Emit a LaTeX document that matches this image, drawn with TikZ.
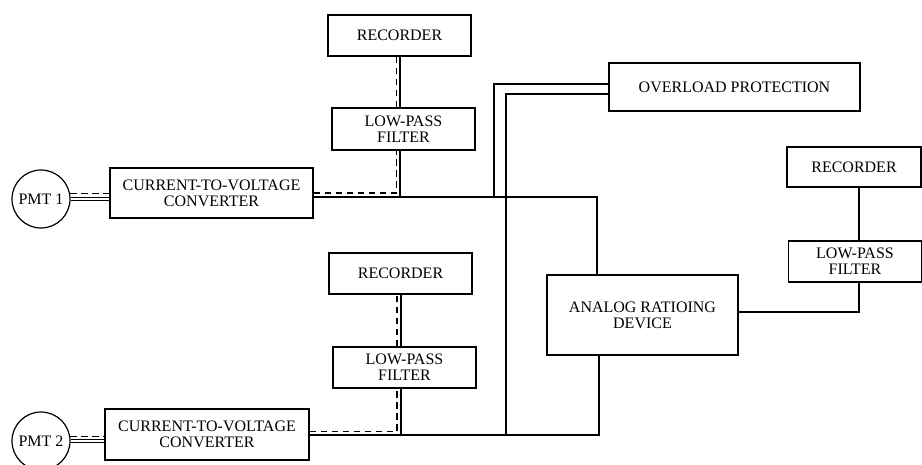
\documentclass[tikz,border=0pt]{standalone}
\usepackage{fontspec}
\setmainfont{Liberation Serif}
\usetikzlibrary{positioning}
\tikzset{
  blk/.style 2 args={draw,line width=1.2pt,rectangle,inner sep=0pt,
    minimum width=#1,minimum height=#2,align=center,
    font=\fontsize{16}{15.7}\selectfont},
  pmt/.style={draw,line width=1.2pt,circle,inner sep=0pt,minimum size=58pt,
    font=\fontsize{16}{15.7}\selectfont},
  wire/.style={line width=1.2pt},
  dwire/.style={line width=1.2pt,dash pattern=on 6.5pt off 4.5pt},
  twin/.style={double,double distance=1.6pt,line width=0.9pt},
}
\begin{document}
\begin{tikzpicture}[x=1pt,y=-1pt]
  \useasboundingbox (0,0) rectangle (922,464);
  % channel 1
  \node[pmt] (pmt1) at (41,199) {PMT 1};
  \node[blk={203pt}{50pt}] (cv1) at (211.5,193) {CURRENT-TO-VOLTAGE\\CONVERTER};
  \node[blk={143pt}{42pt}] (lp1) at (403.5,129) {LOW-PASS\\FILTER};
  \node[blk={143pt}{41pt}] (rec1) at (399.5,35.5) {RECORDER};
  % channel 2
  \node[pmt] (pmt2) at (41,441) {PMT 2};
  \node[blk={204pt}{51pt}] (cv2) at (207,434.5) {CURRENT-TO-VOLTAGE\\CONVERTER};
  \node[blk={143pt}{41pt}] (lp2) at (404.5,367.5) {LOW-PASS\\FILTER};
  \node[blk={143pt}{41pt}] (rec2) at (400.5,273.5) {RECORDER};
  % ratio part
  \node[blk={251pt}{48pt}] (ovl) at (734.5,87) {OVERLOAD PROTECTION};
  \node[blk={191pt}{80pt}] (adc) at (642.5,315) {ANALOG RATIOING\\DEVICE};
  \node[blk={133pt}{41pt}] (lp3) at (855,261.5) {LOW-PASS\\FILTER};
  \node[blk={134pt}{40pt}] (rec3) at (854,167) {RECORDER};

  \coordinate (t1) at (597,197);
  \coordinate (s1) at (400,197);
  \coordinate (d1) at (396.5,193);
  \coordinate (t2) at (599,435);
  \coordinate (s2) at (401,435);
  \coordinate (d2) at (397,431.5);
  \coordinate (o1) at (494,84);
  \coordinate (o2) at (506,94);
  \coordinate (a3) at (859,312);

  \draw[twin] (pmt1.east) -- (pmt1.east -| cv1.west);
  \draw[dwire] (pmt1.10) -- (pmt1.10 -| cv1.west);
  \draw[wire] (cv1.east |- t1) -- (t1) -- (t1 |- adc.north);
  \draw[wire] (s1) -- (s1 |- lp1.south);
  \draw[dwire] (cv1.east |- d1) -- (d1) -- (d1 |- lp1.south);
  \draw[wire] (s1 |- lp1.north) -- (s1 |- rec1.south);
  \draw[dwire] (d1 |- lp1.north) -- (d1 |- rec1.south);

  \draw[twin] (pmt2.east) -- (pmt2.east -| cv2.west);
  \draw[dwire] (pmt2.8) -- (pmt2.8 -| cv2.west);
  \draw[wire] (cv2.east |- t2) -- (t2) -- (t2 |- adc.south);
  \draw[wire] (s2) -- (s2 |- lp2.south);
  \draw[dwire] (cv2.east |- d2) -- (d2) -- (d2 |- lp2.south);
  \draw[wire] (s2 |- lp2.north) -- (s2 |- rec2.south);
  \draw[dwire] (d2 |- lp2.north) -- (d2 |- rec2.south);

  \draw[wire] (ovl.west |- o1) -- (o1) -- (o1 |- t1);
  \draw[wire] (ovl.west |- o2) -- (o2) -- (o2 |- t2);
  \draw[wire] (adc.east |- a3) -- (a3) -- (a3 |- lp3.south);
  \draw[wire] (a3 |- lp3.north) -- (a3 |- rec3.south);
\end{tikzpicture}
\end{document}
